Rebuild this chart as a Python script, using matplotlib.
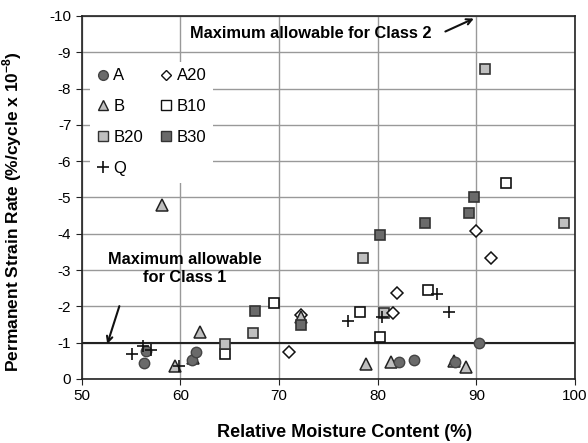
import matplotlib
matplotlib.use("Agg")
import matplotlib.pyplot as plt
from matplotlib.lines import Line2D

plt.rcParams['font.family'] = ['Liberation Sans', 'DejaVu Sans']
plt.rcParams['axes.unicode_minus'] = False
plt.rcParams['mathtext.fontset'] = 'custom'
plt.rcParams['mathtext.rm'] = 'Liberation Sans'
plt.rcParams['mathtext.bf'] = 'Liberation Sans:bold'

# moisture content (%) and permanent strain rate for each material
a_x = [56.3, 56.5, 61.2, 61.6, 82.2, 83.7, 87.8, 90.3]
a_y = [-0.43, -0.78, -0.52, -0.75, -0.48, -0.52, -0.48, -1.0]

a20_x = [71.0, 72.2, 81.5, 82.0, 90.0, 91.5]
a20_y = [-0.75, -1.75, -1.81, -2.37, -4.08, -3.32]

b_x = [58.1, 59.5, 61.3, 62.0, 72.2, 78.8, 81.3, 87.7, 88.9]
b_y = [-4.79, -0.36, -0.59, -1.29, -1.71, -0.41, -0.48, -0.50, -0.32]

b10_x = [64.5, 69.5, 78.2, 80.2, 85.1, 93.0]
b10_y = [-0.68, -2.09, -1.84, -1.15, -2.45, -5.39]

b20_x = [64.5, 67.4, 78.5, 80.6, 90.9, 98.9]
b20_y = [-0.95, -1.26, -3.32, -1.83, -8.53, -4.31]

b30_x = [67.6, 72.2, 80.2, 84.8, 89.3, 89.8]
b30_y = [-1.88, -1.50, -3.96, -4.29, -4.58, -5.02]

q_x = [55.1, 56.2, 57.0, 59.9, 77.0, 80.4, 86.0, 87.2]
q_y = [-0.68, -0.91, -0.79, -0.36, -1.61, -1.72, -2.34, -1.84]

fig = plt.figure(figsize=(5.88, 4.43), dpi=100)
ax = fig.add_axes([0.139, 0.1445, 0.839, 0.8195])

ax.set_xlim(50, 100)
ax.set_ylim(0, -10)
ax.set_xticks(range(50, 101, 10))
ax.set_yticks(range(0, -11, -1))
ax.grid(True, color='#999999', linewidth=1.0)
ax.set_axisbelow(True)
ax.axhline(-1, color='#222222', linewidth=1.5, zorder=2)

for s in ax.spines.values():
    s.set_color('#222222')
    s.set_linewidth(1.2)
ax.tick_params(labelsize=11, length=4, color='#222222', direction='out')

ms = 7
ax.plot(b10_x, b10_y, 's', ms=ms, mfc='white', mec='#111111', mew=1.2, zorder=3)
ax.plot(b20_x, b20_y, 's', ms=ms, mfc='#bfbfbf', mec='#333333', mew=1.2, zorder=3)
ax.plot(b30_x, b30_y, 's', ms=ms, mfc='#6a6a6a', mec='#333333', mew=1.2, zorder=4)
ax.plot(a20_x, a20_y, 'D', ms=6, mfc='white', mec='#111111', mew=1.1, zorder=3)
ax.plot(b_x, b_y, '^', ms=8, mfc='#bfbfbf', mec='#222222', mew=1.1, zorder=3)
ax.plot(a_x, a_y, 'o', ms=7.5, mfc='#6a6a6a', mec='#444444', mew=1.0, zorder=3)
ax.plot(q_x, q_y, '+', ms=9, color='#111111', mew=1.2, zorder=5)

handles = [
    Line2D([], [], ls='', marker='o', ms=7, mfc='#6a6a6a', mec='#444444'),
    Line2D([], [], ls='', marker='^', ms=7.5, mfc='#bfbfbf', mec='#222222'),
    Line2D([], [], ls='', marker='s', ms=6.5, mfc='#bfbfbf', mec='#333333'),
    Line2D([], [], ls='', marker='+', ms=8, color='#111111', mew=1.2),
    Line2D([], [], ls='', marker='D', ms=5.5, mfc='white', mec='#111111'),
    Line2D([], [], ls='', marker='s', ms=6.5, mfc='white', mec='#111111'),
    Line2D([], [], ls='', marker='s', ms=6.5, mfc='#6a6a6a', mec='#333333'),
]
labels = ['A', 'B', 'B20', 'Q', 'A20', 'B10', 'B30']
leg = ax.legend(handles, labels, ncol=2, loc='upper left',
                bbox_to_anchor=(0.0, 0.897), fontsize=12,
                frameon=True, fancybox=False, edgecolor='none',
                facecolor='white', framealpha=1.0,
                handlelength=0.8, handletextpad=0.2, columnspacing=1.0,
                labelspacing=0.95, borderpad=0.4)

ax.annotate('', xy=(90.0, -9.96), xytext=(86.6, -9.54),
            arrowprops=dict(arrowstyle='->', color='#111111', lw=1.5))
ax.text(73.2, -9.53, 'Maximum allowable for Class 2', ha='center', va='center',
        fontsize=11.8, fontweight='bold')

ax.annotate('', xy=(52.5, -0.89), xytext=(53.9, -2.08),
            arrowprops=dict(arrowstyle='->', color='#111111', lw=1.5))
ax.text(60.4, -3.04, 'Maximum allowable\nfor Class 1', ha='center', va='center',
        fontsize=11.8, fontweight='bold', linespacing=1.2)

ax.set_xlabel('Relative Moisture Content (%)', fontsize=13, fontweight='bold')
ax.xaxis.set_label_coords(0.533, -0.125)
ax.set_ylabel('Permanent Strain Rate (%/cycle x 10$^{\\mathbf{-8}}$)',
              fontsize=12.5, fontweight='bold')
ax.yaxis.set_label_coords(-0.118, 0.46)

fig.savefig('out.png', dpi=100)
